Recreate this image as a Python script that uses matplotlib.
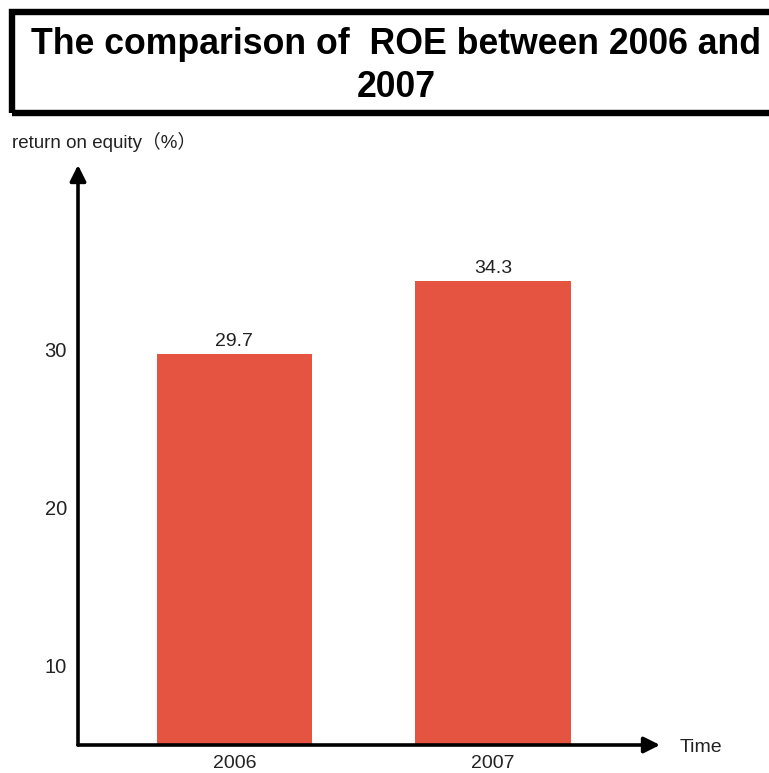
import matplotlib.pyplot as plt
from matplotlib.patches import Rectangle

years = ['2006', '2007']
roe = [29.7, 34.3]
yticks = [10, 20, 30]

plt.rcParams['font.family'] = ['Liberation Sans', 'Noto Sans CJK SC', 'DejaVu Sans']

W, H = 769, 773
fig = plt.figure(figsize=(W / 100, H / 100), dpi=100)
fig.patch.set_facecolor('white')

# plot area in pixels: y axis at x=78, x axis at y=745, arrow tips at x=660 / y=165
ax = fig.add_axes([78 / W, 1 - 745 / H, (660 - 78) / W, (745 - 165) / H])
ax.bar(range(len(years)), roe, width=0.6, color='#E55441')
ax.set_xlim(-0.605, 1.646)
ax.set_ylim(4.94, 41.65)

ax.set_xticks(range(len(years)))
ax.set_xticklabels(years)
ax.set_yticks(yticks)
ax.tick_params(length=0, labelsize=14.5, colors='#222222')
ax.tick_params(axis='x', pad=7, labelsize=14)
ax.tick_params(axis='y', pad=8)
for s in ax.spines.values():
    s.set_visible(False)

for p, v in zip(ax.patches, roe):
    ax.annotate(f'{v}', (p.get_x() + p.get_width() / 2, v), xytext=(0, 3),
                textcoords='offset points', ha='center', va='bottom',
                fontsize=14, color='#222222')

# axis arrows
arrow = dict(arrowstyle='-|>', lw=2.6, color='black', mutation_scale=24,
             shrinkA=0, shrinkB=0)
ax.annotate('', xy=(0, 1), xytext=(0, 0), xycoords='axes fraction', arrowprops=arrow,
            annotation_clip=False)
ax.annotate('', xy=(1, 0), xytext=(0, 0), xycoords='axes fraction', arrowprops=arrow,
            annotation_clip=False)

fig.text(680 / W, 1 - 747 / H, 'Time', fontsize=14, ha='left', va='center', color='#222222')
fig.text(12 / W, 1 - 142 / H, 'return on equity（%）', fontsize=13.5, ha='left', va='center',
         color='#222222')

# title box, running off the right edge
fig.add_artist(Rectangle((12 / W, 1 - 113 / H), 1.0, (113 - 12) / H, transform=fig.transFigure,
                         fill=False, lw=4.6, edgecolor='black', clip_on=False))
fig.text(396 / W, 1 - 66 / H, 'The comparison of  ROE between 2006 and\n2007',
         fontsize=25.7, fontweight='bold', ha='center', va='center', multialignment='center',
         linespacing=1.32)

fig.savefig('out.png', dpi=100)
